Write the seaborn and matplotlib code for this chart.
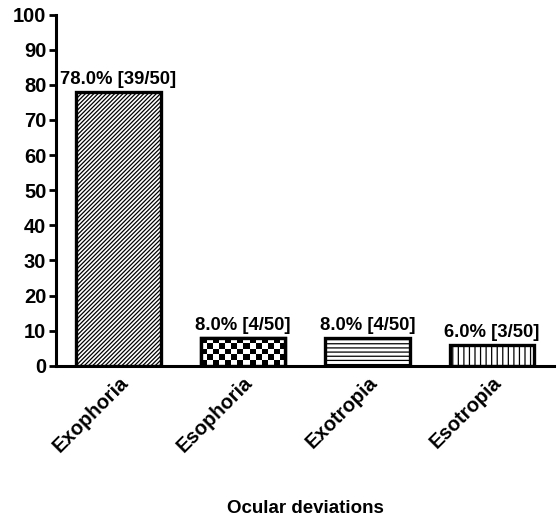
import matplotlib
matplotlib.use("Agg")
import matplotlib.pyplot as plt
import numpy as np
import pandas as pd
import seaborn as sns

categories = ["Exophoria", "Esophoria", "Exotropia", "Esotropia"]
percents = [78.0, 8.0, 8.0, 6.0]
counts = [39, 4, 4, 3]
total = 50
hatches = ["////////", None, "----", "|||"]

sns.set_theme(style="ticks")
plt.rcParams["font.family"] = ["Liberation Sans", "DejaVu Sans"]
plt.rcParams["font.weight"] = "bold"
plt.rcParams["text.color"] = "black"
plt.rcParams["xtick.color"] = "black"
plt.rcParams["ytick.color"] = "black"
plt.rcParams["axes.labelcolor"] = "black"
plt.rcParams["axes.edgecolor"] = "black"
plt.rcParams["hatch.linewidth"] = 0.9
plt.rcParams["hatch.color"] = "black"

df = pd.DataFrame({"deviation": categories, "percent": percents})

fig = plt.figure(figsize=(5.6, 5.19), dpi=100)
ax = fig.add_axes([0.1, 0.295, 0.89, 0.677])

sns.barplot(data=df, x="deviation", y="percent", color="white", width=0.68,
            edgecolor="black", linewidth=2.4, saturation=1, ax=ax)

for bar, h in zip(ax.patches, hatches):
    bar.set_facecolor("white")
    if h:
        bar.set_hatch(h)

# checkerboard fill for the Esophoria bar, clipped to the bar itself
chk = ax.patches[1]
x0, y0, w, hgt = chk.get_x(), chk.get_y(), chk.get_width(), chk.get_height()
board = np.indices((5, 14)).sum(axis=0) % 2
img = ax.imshow(board, cmap="gray", extent=[x0, x0 + w, y0, y0 + hgt],
                aspect="auto", interpolation="nearest", zorder=chk.get_zorder() + 0.1)
img.set_clip_path(chk)
ax.add_patch(plt.Rectangle((x0, y0), w, hgt, fill=False, edgecolor="black",
                           linewidth=2.4, zorder=chk.get_zorder() + 0.2))

for bar, p, c in zip(ax.patches, percents, counts):
    ax.text(bar.get_x() + bar.get_width() / 2, bar.get_height() + 1.0,
            f"{p:.1f}% [{c}/{total}]", ha="center", va="bottom",
            fontsize=13.3, fontweight="bold")

ax.set_xlim(-0.5, 3.5)
ax.set_ylim(0, 100)
ax.set_yticks(range(0, 101, 10))
ax.tick_params(axis="y", labelsize=14.5, width=2, length=5, pad=2)
ax.tick_params(axis="x", length=0, pad=5)
ax.set_xticks(range(len(categories)))
ax.set_xticklabels(categories, rotation=45, ha="right", va="top",
                   rotation_mode="anchor", fontsize=14.5, fontweight="bold")
for lab in ax.get_yticklabels():
    lab.set_fontweight("bold")

ax.set_ylabel("")
ax.set_xlabel("Ocular deviations", fontsize=13.5, fontweight="bold")
ax.xaxis.set_label_coords(0.5, -0.382)

sns.despine(ax=ax)
ax.spines["left"].set_linewidth(2.2)
ax.spines["bottom"].set_linewidth(2.2)

fig.savefig("out.png", dpi=100)
